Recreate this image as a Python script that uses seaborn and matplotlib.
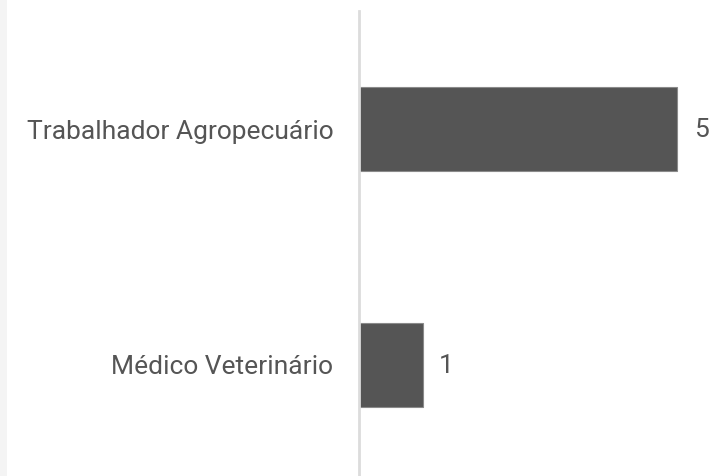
import matplotlib
matplotlib.use("Agg")
import matplotlib.pyplot as plt
import seaborn as sns
import pandas as pd
from matplotlib.patches import Rectangle

sns.set_style("white")
plt.rcParams["font.family"] = ["Roboto", "DejaVu Sans"]

# data
categories = ["Trabalhador Agropecuário", "Médico Veterinário"]
counts = [5, 1]

df = pd.DataFrame({"categoria": categories, "total": counts})

W, H = 713, 476
fig = plt.figure(figsize=(W / 100, H / 100), dpi=100)
fig.patches.append(Rectangle((0, 0), 7 / W, 1, transform=fig.transFigure,
                             facecolor="#f4f4f4", edgecolor="none", zorder=0))

ax = fig.add_axes([359 / W, 0, 1 - 359 / W, (476 - 11) / H])
sns.barplot(data=df, x="total", y="categoria", color="#555555", width=0.357,
            saturation=1, edgecolor="#8a8a8a", linewidth=0.8, ax=ax)

ax.set_xlim(0, 354 / 63.6)
ax.set_ylim(1.473, -0.501)
ax.set_xlabel("")
ax.set_ylabel("")
ax.set_xticks([])
for s in ["top", "right", "bottom"]:
    ax.spines[s].set_visible(False)
ax.spines["left"].set_color("#dcdcdc")
ax.spines["left"].set_linewidth(2)
ax.tick_params(axis="y", length=0, pad=18.5, labelsize=19, labelcolor="#555555")
ax.patch.set_alpha(0)

for i, v in enumerate(counts):
    ax.annotate(str(v), (v, i), xytext=(12, -1), textcoords="offset points",
                va="center", ha="left", fontsize=19, color="#555555")

plt.savefig("out.png", dpi=100)
